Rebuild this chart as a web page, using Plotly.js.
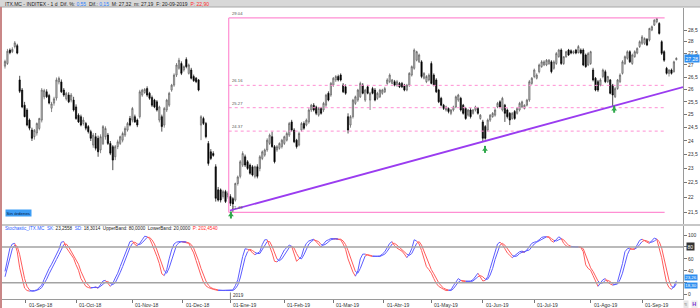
<!DOCTYPE html>
<html><head><meta charset="utf-8">
<script src="https://cdn.plot.ly/plotly-3.0.1.min.js"></script>
<style>html,body{margin:0;padding:0;background:#fff;overflow:hidden}#chart{width:700px;height:308px}</style>
</head><body><div id="chart"></div>
<script>
// ---- DATA ----
const openP = [26.95,27.06,27.63,27.56,27.78,27.82,26.38,25.97,25.37,25.18,
24.79,24.41,24.16,24.30,24.47,24.79,25.70,25.90,25.75,25.25,
25.45,25.65,26.30,26.30,25.97,25.62,25.77,25.57,25.57,25.30,
24.98,24.92,24.66,24.66,24.54,24.35,23.85,24.16,24.10,23.67,
23.90,24.16,24.22,23.91,23.79,23.42,23.79,23.91,24.03,24.22,
24.41,24.85,24.79,24.92,24.79,24.92,25.77,25.87,26.03,25.84,
25.67,25.57,25.50,24.79,24.92,24.60,25.18,25.37,25.97,26.17,
26.58,26.86,27.06,26.79,27.23,26.65,26.79,26.52,26.45,26.38,
24.60,24.85,24.66,23.91,23.60,23.54,23.06,22.25,22.25,22.02,
22.19,22.02,22.02,21.95,21.90,22.47,22.72,23.12,23.42,23.24,
23.12,23.06,22.72,23.06,23.00,23.36,23.48,23.67,23.91,24.16,
23.79,23.67,23.73,23.79,23.91,24.03,24.22,24.72,24.41,24.03,
23.85,24.41,24.66,24.60,24.72,25.18,25.37,25.30,24.98,25.24,
25.18,25.37,25.84,25.77,26.17,26.38,26.52,26.58,26.17,26.10,
24.92,24.60,24.92,25.44,25.57,25.70,26.17,25.57,26.10,25.57,
26.03,25.97,25.64,25.70,25.84,25.90,26.24,26.31,26.24,26.31,
26.17,26.24,26.24,26.17,25.97,26.17,26.58,26.86,27.20,27.13,
27.13,26.45,26.31,26.38,27.06,26.58,26.38,25.97,25.64,25.37,
25.18,25.24,25.05,25.18,25.30,25.57,25.64,25.37,25.24,24.98,
25.18,25.05,25.18,25.24,24.85,24.72,24.54,24.41,24.79,24.92,
24.98,25.30,25.50,25.18,25.37,25.18,25.05,24.85,25.12,25.05,
25.18,25.30,25.24,25.37,25.57,26.24,26.52,26.45,26.72,26.93,
27.00,27.00,27.06,27.13,26.86,27.06,27.35,27.63,27.06,27.35,
27.63,27.60,27.50,27.63,27.52,27.63,27.63,27.42,27.00,27.06,
26.79,26.45,26.31,26.17,26.52,26.72,26.31,26.38,26.17,25.70,
26.03,26.31,26.65,27.06,27.28,27.56,27.06,27.35,27.50,27.78,
27.92,27.92,28.09,28.06,28.50,28.72,28.87,28.79,27.99,27.56,
26.86,26.65,26.79,26.72,27.22];
const highP = [27.22,27.68,27.70,27.75,28.02,27.90,26.55,26.05,25.50,25.25,
24.85,24.50,24.45,24.70,24.88,26.05,26.02,26.00,25.82,25.50,
25.70,26.48,26.52,26.40,26.05,25.90,25.88,25.85,25.70,25.40,
25.05,25.00,24.90,24.72,24.60,24.42,24.30,24.30,24.20,24.25,
24.60,24.55,24.30,24.00,23.85,23.85,24.05,24.20,24.35,24.55,
24.72,24.95,25.30,25.00,24.85,25.98,26.02,26.05,26.12,25.90,
25.75,25.62,25.57,25.35,25.00,25.30,25.62,25.90,26.22,26.65,
27.08,27.30,27.15,26.98,27.32,27.06,26.88,26.60,26.50,26.42,
24.98,24.92,24.72,24.00,23.70,23.62,23.15,22.35,22.30,22.25,
22.25,22.20,22.10,22.00,22.50,22.75,23.30,23.62,23.50,23.30,
23.18,23.12,23.10,23.15,23.48,23.65,23.72,24.10,24.28,24.35,
23.85,23.85,23.95,24.08,24.20,24.35,24.72,24.80,24.48,24.08,
24.35,24.72,24.74,24.85,25.25,25.42,25.45,25.35,25.30,25.30,
25.50,25.82,25.92,26.30,26.50,26.58,26.60,26.65,26.25,26.20,
25.05,24.98,25.62,25.75,26.02,26.31,26.25,26.02,26.18,25.90,
26.10,26.05,25.90,26.02,26.02,26.10,26.45,26.65,26.42,26.38,
26.38,26.30,26.30,26.22,26.22,26.70,26.98,27.70,27.60,27.48,
27.20,26.70,26.58,26.65,27.15,26.65,26.45,26.02,25.70,25.42,
25.35,25.28,25.22,25.35,25.75,25.82,25.70,25.42,25.30,25.22,
25.25,25.22,25.35,25.30,25.02,24.80,24.60,24.85,25.02,25.10,
25.25,25.50,25.56,25.70,25.42,25.24,25.10,25.10,25.18,25.30,
25.50,25.55,25.40,25.62,26.38,26.50,26.85,26.65,27.06,27.20,
27.20,27.25,27.25,27.20,27.20,27.55,27.68,27.70,27.35,27.60,
27.68,27.66,27.62,27.68,27.85,27.70,27.70,27.48,27.55,27.60,
26.88,26.50,26.38,26.45,26.85,26.80,26.55,26.42,26.22,26.10,
26.42,26.65,27.20,27.40,27.62,27.62,27.48,27.62,27.75,28.05,
28.28,28.18,28.15,28.60,28.70,28.98,29.04,28.85,28.05,27.62,
26.92,26.82,26.85,27.18,27.32];
const lowP = [26.85,27.00,27.45,27.50,27.70,27.45,25.85,25.25,24.90,24.55,
24.40,24.00,24.05,24.20,24.40,24.70,25.60,25.65,25.40,25.10,
25.35,25.55,26.20,25.85,25.70,25.55,25.45,25.48,25.12,24.80,
24.68,24.55,24.58,24.40,24.28,24.00,23.75,23.65,23.42,23.55,
23.85,24.05,23.85,23.48,22.94,23.30,23.70,23.85,23.95,24.15,
24.35,24.55,24.70,24.68,24.52,24.85,25.70,25.82,25.70,25.58,
25.30,25.25,25.12,24.70,24.35,24.50,25.10,25.30,25.90,26.10,
26.50,26.80,26.58,26.72,26.86,26.60,26.40,26.30,26.25,25.92,
24.03,24.60,24.10,23.10,23.30,23.42,21.85,21.85,21.82,21.95,
21.80,21.95,21.70,21.49,21.85,22.40,22.65,23.05,23.05,22.95,
22.78,22.72,22.65,22.65,22.90,23.30,23.42,23.60,23.85,23.75,
23.18,23.60,23.68,23.72,23.85,23.98,24.15,24.35,23.92,23.72,
23.80,24.35,24.42,24.55,24.65,25.10,25.12,24.98,24.92,25.00,
25.10,25.30,25.52,25.70,26.10,26.30,26.32,26.32,25.85,25.78,
24.28,24.50,24.85,25.38,25.50,25.65,25.80,25.50,25.80,25.18,
25.80,25.52,25.58,25.65,25.78,25.85,26.18,26.25,26.20,26.12,
26.10,26.05,26.05,25.92,25.92,26.10,26.52,26.80,27.15,27.08,
26.45,26.40,26.25,26.32,26.20,26.12,25.85,25.45,25.32,25.18,
25.12,25.05,24.98,25.12,25.25,25.50,25.12,25.00,24.80,24.92,
24.85,25.00,25.12,25.00,24.80,23.97,24.05,24.35,24.72,24.88,
24.92,25.25,25.25,25.12,24.72,24.85,24.60,24.80,24.80,25.00,
25.12,25.25,25.20,25.32,25.50,26.18,26.45,26.40,26.65,26.88,
26.95,26.95,27.00,26.65,26.80,27.00,27.30,27.00,27.00,27.30,
27.38,27.45,27.45,27.45,27.48,27.45,26.95,26.88,26.95,27.00,
26.32,25.92,25.90,26.12,26.45,26.25,26.25,25.80,25.30,25.65,
25.98,26.25,26.60,27.00,27.22,27.08,27.00,27.30,27.45,27.72,
27.85,27.85,27.80,28.00,28.45,28.68,28.80,28.30,27.42,27.13,
26.60,26.52,26.60,26.68,27.19];
const closeP = [27.15,27.58,27.52,27.66,27.94,27.50,25.92,25.30,24.92,24.60,
24.48,24.10,24.40,24.66,24.85,25.97,25.95,25.70,25.45,25.42,
25.62,26.38,26.45,25.90,25.77,25.84,25.50,25.77,25.18,24.85,
24.72,24.60,24.79,24.48,24.35,24.10,24.22,23.73,23.60,24.16,
24.54,24.47,23.91,23.55,23.30,23.79,23.97,24.16,24.28,24.47,
24.66,24.60,25.24,24.72,24.60,25.90,25.97,26.00,25.77,25.64,
25.37,25.30,25.18,25.30,24.54,25.24,25.57,25.84,26.17,26.58,
27.00,27.20,26.65,26.93,26.93,27.00,26.45,26.35,26.31,25.97,
24.92,24.66,24.16,23.18,23.36,23.47,21.96,21.90,21.90,22.19,
21.85,22.13,21.79,21.77,22.47,22.70,23.24,23.54,23.12,23.00,
22.83,22.77,23.06,22.72,23.42,23.60,23.67,24.03,24.22,23.79,
23.24,23.79,23.91,24.03,24.16,24.28,24.66,24.41,23.97,23.79,
24.28,24.66,24.48,24.79,25.18,25.37,25.18,25.05,25.24,25.05,
25.44,25.77,25.57,26.24,26.45,26.52,26.38,26.38,25.90,25.84,
24.41,24.92,25.57,25.70,25.97,26.24,25.84,25.97,25.84,25.84,
25.84,25.57,25.84,25.97,25.97,26.03,26.38,26.58,26.38,26.17,
26.31,26.10,26.10,25.97,26.17,26.65,26.93,27.63,27.56,27.42,
26.52,26.65,26.52,26.58,26.24,26.17,25.90,25.50,25.37,25.24,
25.30,25.12,25.18,25.30,25.70,25.77,25.18,25.05,24.85,25.18,
24.92,25.18,25.30,25.05,24.98,24.10,24.10,24.79,24.98,25.05,
25.18,25.44,25.30,25.64,25.05,24.92,24.79,25.05,24.85,25.24,
25.44,25.50,25.37,25.57,26.31,26.45,26.79,26.58,27.00,27.13,
27.13,27.20,27.20,26.72,27.13,27.48,27.63,27.06,27.35,27.56,
27.42,27.50,27.56,27.50,27.78,27.50,27.00,26.93,27.48,27.56,
26.38,25.97,25.97,26.38,26.79,26.31,26.52,25.84,25.77,26.03,
26.38,26.58,27.13,27.35,27.56,27.13,27.42,27.56,27.70,27.99,
28.20,28.13,27.85,28.57,28.65,28.94,29.01,28.35,27.49,27.20,
26.65,26.79,26.65,27.13,27.28];
const skVals = [39,60,78,85,86,72,45,25,11,7,6,6,7,8,12,16,26,36,44,51,
59,66,76,88,89,79,73,67,61,50,41,27,21,14,12,11,12,13,11,17,
23,24,19,14,19,28,36,47,58,69,79,89,90,84,82,86,92,98,97,94,
85,76,64,52,35,32,42,60,75,85,88,89,89,88,88,86,78,70,57,43,
32,21,15,12,10,9,8,7,7,7,7,7,7,8,15,25,45,64,77,76,
75,70,67,69,72,84,92,92,82,70,56,55,59,67,75,79,83,81,70,56,
60,64,78,86,90,92,93,89,84,80,86,90,92,94,94,93,93,92,85,76,
60,48,38,31,40,60,68,68,66,65,64,64,64,65,68,72,79,86,89,82,
78,76,73,68,62,68,77,92,90,85,74,60,47,42,36,27,19,14,11,9,
7,7,8,15,22,27,24,22,22,22,23,25,30,36,30,23,24,30,44,58,
75,85,88,84,77,70,66,62,65,69,72,73,71,75,80,86,88,89,92,96,
97,97,96,90,88,92,97,94,86,82,80,80,80,80,80,79,72,50,44,41,
32,22,14,20,25,27,21,18,16,17,22,35,52,72,77,78,76,76,84,91,
93,90,88,86,90,95,93,78,62,40,20,12,9,14,23.26];
const sdVals = [30,45,62,77,83,81,67,47,27,14,8,6,6,7,9,12,18,26,35,44,
51,59,67,77,84,85,80,73,67,59,51,39,30,21,16,12,12,12,12,14,
17,21,22,19,17,20,28,37,47,58,69,79,86,88,85,84,87,92,96,96,
92,85,75,64,50,40,36,45,59,73,83,87,89,89,88,87,84,78,68,57,
44,32,23,16,12,10,9,8,7,7,7,7,7,7,10,16,28,45,62,72,
76,74,71,69,69,75,83,89,89,81,69,60,57,60,67,74,79,81,78,69,
62,60,67,76,85,89,92,91,89,84,83,85,89,92,93,94,93,93,90,84,
74,61,49,39,36,44,56,65,67,66,65,64,64,64,66,68,73,79,85,86,
83,79,76,72,68,66,69,79,86,89,83,73,60,50,42,35,27,20,15,11,
9,8,7,10,15,21,24,24,23,22,22,23,26,30,32,30,26,26,33,44,
59,73,83,86,83,77,71,66,64,65,69,71,72,73,75,80,85,88,90,92,
95,97,97,94,91,90,92,94,92,87,83,81,80,80,80,80,77,67,55,45,
39,32,23,19,20,24,24,22,18,17,18,25,36,53,67,76,77,77,79,84,
89,91,90,88,88,90,93,89,78,60,41,24,14,12,18.30];
const monthTickPos = [8.5,29,52,72.5,92,114,134,154.5,174,195,216,239,260];
const monthLabels = ['01-Sep-18','01-Oct-18','01-Nov-18','01-Dec-18','01-Ene-19','01-Feb-19','01-Mar-19','01-Abr-19','01-May-19','01-Jun-19','01-Jul-19','01-Ago-19','01-Sep-19'];
const priceTicks = [21.5,22,22.5,23,23.5,24,24.5,25,25.5,26,26.5,27,27.5,28,28.5];
const priceTickText = ['21,5','22','22,5','23','23,5','24','24,5','25','25,5','26','26,5','27','27,5','28','28,5'];
const stochTicks = [0,20,40,60,80,100];
const stochTickText = ['0','','40','60','','100'];
const fibLevels = [29.04,26.16,25.27,24.37,21.49];
const fibLabels = ['29.04','26.16','25.27','24.37','21.49'];
const fibX = [91.3,269.2];
const trendX = [91.8,276.7];
const trendY = [21.55,26.09];
const signalX = [92.2,195.9,248.6];
const signalY = [21.40,23.69,25.21];
const lastPrice = 27.28, lastSK = 23.26, lastSD = 18.30;

// ---- helpers (layout only) ----
const W = 700, H = 308;
const px = x => x / W;
const py = y => 1 - y / H;
const FONT = 'Liberation Sans, Arial, sans-serif';
const idx = closeP.map((_, i) => i);

const traces = [];
traces.push({
  type: 'candlestick', x: idx, open: openP, high: highP, low: lowP, close: closeP,
  xaxis: 'x', yaxis: 'y', whiskerwidth: 0, hoverinfo: 'skip',
  increasing: {line: {color: '#5a5a5a', width: 0.7}, fillcolor: '#d2d2d2'},
  decreasing: {line: {color: '#000000', width: 0.7}, fillcolor: '#000000'},
  showlegend: false
});
const fibMax = Math.max(...fibLevels), fibMin = Math.min(...fibLevels);
fibLevels.forEach(l => {
  const solid = (l === fibMax || l === fibMin);
  traces.push({type: 'scatter', mode: 'lines', x: fibX, y: [l, l], xaxis: 'x', yaxis: 'y',
    line: {color: '#ff8ed3', width: solid ? 1.2 : 1, dash: solid ? 'solid' : 'dot'}, hoverinfo: 'skip', showlegend: false});
});
traces.push({type: 'scatter', mode: 'lines', x: [fibX[0], fibX[0]], y: [fibMin, fibMax], xaxis: 'x', yaxis: 'y',
  line: {color: '#ff8ed3', width: 1.2}, hoverinfo: 'skip', showlegend: false});
traces.push({type: 'scatter', mode: 'lines', x: trendX, y: trendY, xaxis: 'x', yaxis: 'y',
  line: {color: '#9a3cf0', width: 1.8}, hoverinfo: 'skip', showlegend: false});
traces.push({type: 'scatter', mode: 'markers', x: signalX, y: signalY, xaxis: 'x', yaxis: 'y',
  marker: {symbol: 'line-ns', size: 5, line: {color: '#2fa84a', width: 2}}, hoverinfo: 'skip', showlegend: false});
traces.push({type: 'scatter', mode: 'markers', x: signalX, y: signalY, xaxis: 'x', yaxis: 'y',
  marker: {symbol: 'triangle-up', size: 5, color: '#2fa84a', line: {width: 0}}, hoverinfo: 'skip', showlegend: false});

const state = skVals.map((v, i) => v >= sdVals[i] ? 'b' : 'r');
function part(vals, c) {
  return vals.map((v, j) => (state[j] === c || (j + 1 < vals.length && state[j + 1] === c)) ? v : null);
}
const BLUE = '#5c5cff', RED = '#ff5c5c';
[[sdVals, 'r', RED], [sdVals, 'b', BLUE], [skVals, 'r', RED], [skVals, 'b', BLUE]].forEach(([vals, c, col]) => {
  traces.push({type: 'scatter', mode: 'lines', x: idx, y: part(vals, c), xaxis: 'x', yaxis: 'y2',
    line: {color: col, width: 1}, connectgaps: false, hoverinfo: 'skip', showlegend: false});
});

const annotations = [];
annotations.push({xref: 'paper', yref: 'paper', x: px(3), y: py(3.6), xanchor: 'left', yanchor: 'middle', showarrow: false,
  font: {family: FONT, size: 5, color: '#222'},
  text: 'ITX.MC - INDITEX - 1 d  Dif. %: <span style="color:#2a7fff">0,55</span>  Dif.: <span style="color:#2a7fff">0,15</span>  M: 27,32  m: 27,19  F: 20-09-2019  <span style="color:#ff2a2a">P: 22,90</span>'});
annotations.push({xref: 'paper', yref: 'paper', x: px(3), y: py(228.5), xanchor: 'left', yanchor: 'middle', showarrow: false,
  font: {family: FONT, size: 4.6, color: '#222'},
  text: '<span style="color:#2a5cff">Stochastic_ITX.MC</span>  <span style="color:#2a5cff">SK:</span> 23,2558  <span style="color:#2a5cff">SD:</span> 18,3014  UpperBand: 80,0000  LowerBand: 20,0000  <span style="color:#ff2a2a">P: 202,4540</span>'});
fibLevels.forEach((l, k) => annotations.push({xref: 'x', yref: 'y', x: fibX[0], y: Math.log10(l), xanchor: 'left', yanchor: 'bottom',
  xshift: 1, showarrow: false, text: fibLabels[k], font: {family: FONT, size: 4.2, color: '#555'}}));
monthTickPos.forEach((p, k) => annotations.push({xref: 'x', yref: 'paper', x: p, y: py(304.5), xanchor: 'left', yanchor: 'middle',
  xshift: 1, showarrow: false, text: monthLabels[k], font: {family: FONT, size: 5, color: '#333'}}));
annotations.push({xref: 'x', yref: 'paper', x: monthTickPos[4], y: py(295.5), xanchor: 'left', yanchor: 'middle', xshift: 0.5,
  showarrow: false, text: '2019', font: {family: FONT, size: 4.6, color: '#333'}});
annotations.push({xref: 'paper', yref: 'paper', x: px(5), y: py(213), xanchor: 'left', yanchor: 'middle', showarrow: false,
  text: 'Sin órdenes', bgcolor: '#3d9df5', borderpad: 0.6, font: {family: FONT, size: 4.4, color: '#0a1a40'}});
annotations.push({xref: 'paper', yref: 'y', x: px(684), y: Math.log10(lastPrice), xanchor: 'left', yanchor: 'middle', showarrow: false,
  text: '27,28', bgcolor: '#2f8ff0', borderpad: 0.6, font: {family: FONT, size: 5, color: '#fff'}});
annotations.push({xref: 'paper', yref: 'y2', x: px(686), y: 80, xanchor: 'left', yanchor: 'middle', showarrow: false,
  text: '80', bgcolor: '#333', borderpad: 0.6, font: {family: FONT, size: 5, color: '#fff'}});
annotations.push({xref: 'paper', yref: 'y2', x: px(684), y: lastSK, xanchor: 'left', yanchor: 'bottom', yshift: -0.5, showarrow: false,
  text: '23,26', bgcolor: '#2f8ff0', borderpad: 0.2, font: {family: FONT, size: 4.4, color: '#fff'}});
annotations.push({xref: 'paper', yref: 'y2', x: px(684), y: lastSK, xanchor: 'left', yanchor: 'top', yshift: -1.5, showarrow: false,
  text: '18,30', bgcolor: '#2f8ff0', borderpad: 0.2, font: {family: FONT, size: 4.4, color: '#fff'}});
annotations.push({xref: 'paper', yref: 'paper', x: px(683), y: py(304), xanchor: 'left', yanchor: 'middle', showarrow: false,
  text: '≈', bgcolor: '#e6e6e6', borderpad: 0.3, font: {family: FONT, size: 5, color: '#555'}});
annotations.push({xref: 'paper', yref: 'paper', x: px(691), y: py(304), xanchor: 'left', yanchor: 'middle', showarrow: false,
  text: '<b>H</b>', bgcolor: '#eee', borderpad: 0.3, font: {family: FONT, size: 5.5, color: '#7a2fd0'}});

const shapes = [
  {type: 'rect', xref: 'paper', yref: 'paper', x0: 0, x1: 1, y0: py(7), y1: 1, fillcolor: '#d8d8d8', line: {width: 0}, layer: 'below'},
  {type: 'line', xref: 'paper', yref: 'paper', x0: 0, x1: 1, y0: py(7), y1: py(7), line: {color: '#a8a8a8', width: 1}},
  {type: 'rect', xref: 'paper', yref: 'paper', x0: 0, x1: px(2), y0: 0, y1: py(7), fillcolor: '#c98787', line: {width: 0}},
  {type: 'line', xref: 'paper', yref: 'paper', x0: px(2), x1: 1, y0: py(225), y1: py(225), line: {color: '#b4b4b4', width: 1.5}},
  {type: 'line', xref: 'paper', yref: 'y2', x0: px(2), x1: px(683), y0: 80, y1: 80, line: {color: '#a3a3a3', width: 1.4}},
  {type: 'line', xref: 'paper', yref: 'y2', x0: px(2), x1: px(683), y0: 20, y1: 20, line: {color: '#a3a3a3', width: 1.4}},
  {type: 'line', xref: 'x', yref: 'paper', x0: monthTickPos[4], x1: monthTickPos[4], y0: py(299), y1: py(292.5), line: {color: '#888', width: 1}}
];

const layout = {
  width: W, height: H, margin: {l: 0, r: 0, t: 0, b: 0, pad: 0},
  paper_bgcolor: '#ffffff', plot_bgcolor: '#ffffff', showlegend: false, hovermode: false,
  font: {family: FONT, size: 5, color: '#333'},
  xaxis: {domain: [px(2), px(683)], range: [-1.22, 276.7], anchor: 'y2', showgrid: false, zeroline: false,
    tickvals: monthTickPos, showticklabels: false, ticks: 'outside', ticklen: 3, tickcolor: '#777', tickwidth: 1,
    showline: true, linecolor: '#9a9a9a', linewidth: 1, rangeslider: {visible: false}, fixedrange: true},
  yaxis: {domain: [py(224), py(8)], type: 'log', range: [1.324368, 1.469675], side: 'right', anchor: 'x',
    tickvals: priceTicks, ticktext: priceTickText, tickfont: {family: FONT, size: 5, color: '#333'},
    ticks: 'outside', ticklen: 3, tickcolor: '#777', showline: true, linecolor: '#9a9a9a', linewidth: 1,
    showgrid: false, zeroline: false, fixedrange: true},
  yaxis2: {domain: [py(299), py(226)], range: [-7.2, 115.1], side: 'right', anchor: 'x',
    tickvals: stochTicks, ticktext: stochTickText, tickfont: {family: FONT, size: 5, color: '#333'},
    ticks: 'outside', ticklen: 3, tickcolor: '#777', showline: true, linecolor: '#9a9a9a', linewidth: 1,
    showgrid: false, zeroline: false, fixedrange: true},
  annotations: annotations, shapes: shapes
};
Plotly.newPlot('chart', traces, layout, {staticPlot: true, displayModeBar: false});
</script></body></html>
